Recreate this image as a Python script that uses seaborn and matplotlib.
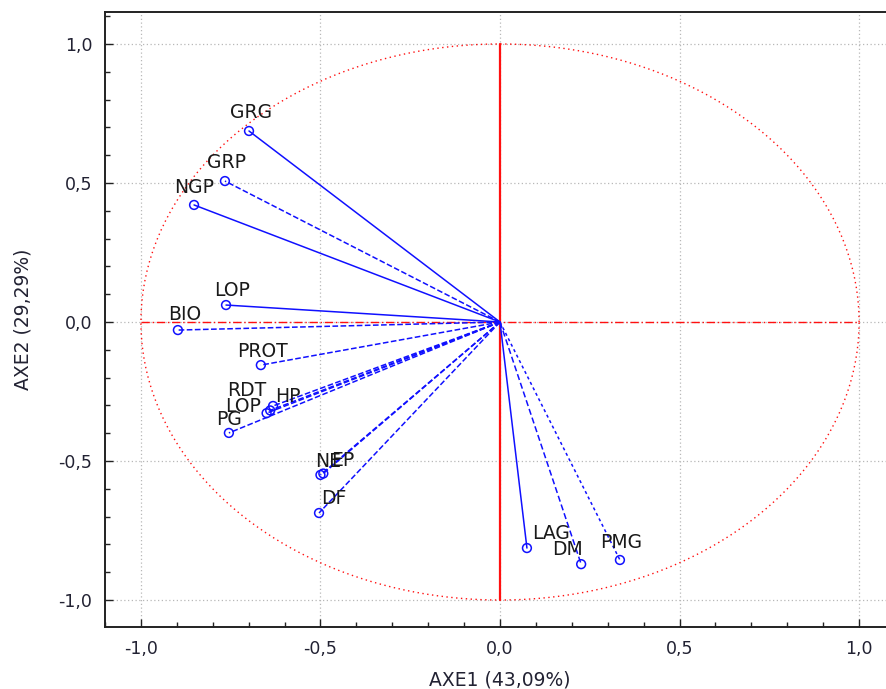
import numpy as np
import pandas as pd
import matplotlib
matplotlib.use("Agg")
import matplotlib.pyplot as plt
import seaborn as sns
from matplotlib.ticker import MultipleLocator, FuncFormatter

# ---- data ----
variables = ["GRG", "GRP", "NGP", "LOP", "BIO", "PROT", "RDT", "LOP", "HP",
             "PG", "NE", "EP", "DF", "LAG", "DM", "PMG"]
axe1 = [-0.699, -0.766, -0.852, -0.763, -0.897, -0.666, -0.632, -0.650, -0.640,
        -0.755, -0.500, -0.492, -0.504, 0.075, 0.226, 0.334]
axe2 = [0.687, 0.507, 0.421, 0.061, -0.029, -0.155, -0.302, -0.328, -0.318,
        -0.399, -0.550, -0.545, -0.687, -0.813, -0.871, -0.856]
xticks = [-1.0, -0.5, 0.0, 0.5, 1.0]
yticks = [-1.0, -0.5, 0.0, 0.5, 1.0]
xlabel = "AXE1 (43,09%)"
ylabel = "AXE2 (29,29%)"

# ---- styles / label offsets (pixels: right, down) ----
line_styles = ["-", "--", "-", "-", "--", "--", "--", "--", "--",
               "--", "--", "--", "--", "-", (0, (4, 2)), (0, (2, 2))]
label_offsets = [(2, -18), (2, -19), (0, -17), (6, -15), (7, -16), (2, -14),
                 (-26, -15), (-24, -7), (18, -14), (0, -13), (8, -13), (19, -13),
                 (15, -15), (24, -15), (-14, -15), (1, -17)]

df = pd.DataFrame({"var": variables, "AXE1": axe1, "AXE2": axe2})

sns.set_theme(style="white")
plt.rcParams["font.family"] = ["DejaVu Sans"]

fig = plt.figure(figsize=(8.87, 6.89), dpi=100)
ax = fig.add_axes([105 / 887, 62 / 689, 790 / 887, 615 / 689])

# grid
for v in xticks:
    ax.axvline(v, color="#b8b8b8", lw=0.9, ls=(0, (1, 2)), zorder=0)
for v in yticks:
    ax.axhline(v, color="#b8b8b8", lw=0.9, ls=(0, (1, 2)), zorder=0)

# unit circle
t = np.linspace(0, 2 * np.pi, 400)
ax.plot(np.cos(t), np.sin(t), color="#ff1010", lw=1.0, ls=(0, (1, 2.5)), zorder=1)
# red axes through origin
ax.plot([-1, 1], [0, 0], color="#ff1010", lw=1.0, ls=(0, (6, 2, 1, 2)), zorder=1)
ax.plot([0, 0], [-1, 1], color="#ff1010", lw=1.6, zorder=1)

# vectors
for xv, yv, ls in zip(df["AXE1"], df["AXE2"], line_styles):
    ax.plot([0, xv], [0, yv], color="#1010ff", lw=1.1, ls=ls, zorder=2)

sns.scatterplot(data=df, x="AXE1", y="AXE2", ax=ax, marker="o", s=40,
                facecolor="none", edgecolor="#1010ff", linewidth=1.1, zorder=3)

for name, xv, yv, (dx, dy) in zip(df["var"], df["AXE1"], df["AXE2"], label_offsets):
    ax.annotate(name, (xv, yv), xytext=(dx * 0.72, -dy * 0.72),
                textcoords="offset points", ha="center", va="center",
                fontsize=13.5, color="#1a1a1a", zorder=4)

ax.set_xlim(-1.1, 1.1)
ax.set_ylim(-1.097, 1.115)
ax.set_xticks(xticks)
ax.set_yticks(yticks)
fmt = FuncFormatter(lambda v, p: f"{v:.1f}".replace(".", ","))
ax.xaxis.set_major_formatter(fmt)
ax.yaxis.set_major_formatter(fmt)
ax.xaxis.set_minor_locator(MultipleLocator(0.1))
ax.yaxis.set_minor_locator(MultipleLocator(0.1))
ax.tick_params(which="major", direction="in", length=6, width=1, color="#222222",
               labelsize=12.5, labelcolor="#222233", pad=9, bottom=True, left=True)
ax.tick_params(which="minor", direction="in", length=3.5, width=1, color="#222222",
               bottom=True, left=True)
ax.set_xlabel(xlabel, fontsize=13.5, color="#222233", labelpad=9)
ax.set_ylabel(ylabel, fontsize=13.5, color="#222233", labelpad=19)
for s in ["left", "bottom", "top"]:
    ax.spines[s].set_color("#222222")
    ax.spines[s].set_linewidth(1.4)
    ax.spines[s].set_visible(True)
ax.spines["right"].set_visible(False)

fig.savefig("out.png", dpi=100)
